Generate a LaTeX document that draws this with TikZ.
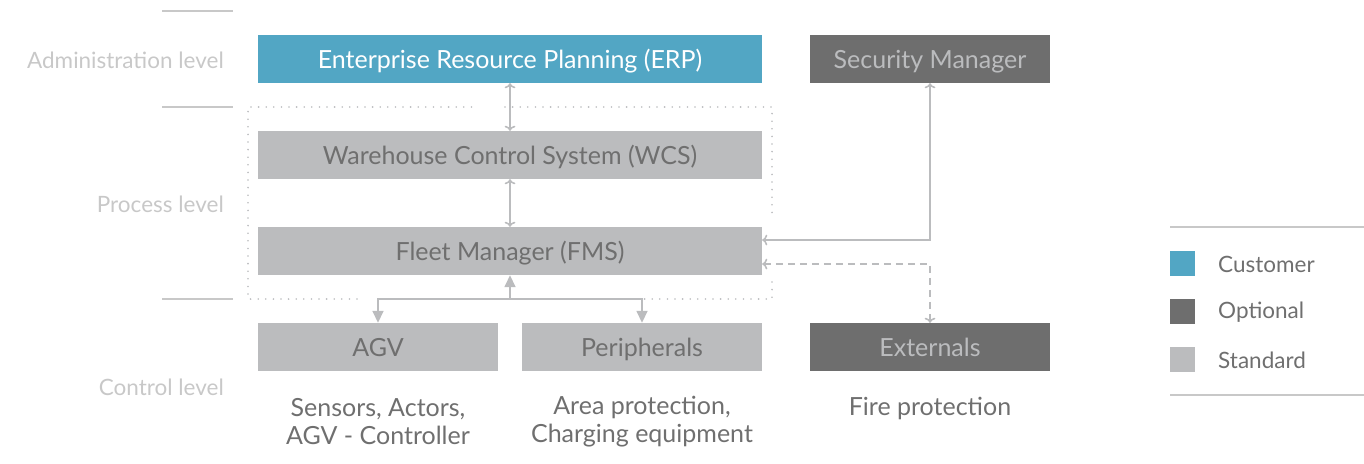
\documentclass[tikz,border=0pt]{standalone}
\usepackage{fontspec}
\setmainfont{Lato}
\usetikzlibrary{arrows.meta}
\definecolor{custblue}{HTML}{52A6C4}
\definecolor{optgray}{HTML}{6E6E6E}
\definecolor{stdgray}{HTML}{BBBCBE}
\definecolor{txtgray}{HTML}{6F6F6F}
\definecolor{lvlgray}{HTML}{C8C8C8}
\tikzset{
  box/.style = {minimum height = 48pt, inner sep = 0pt, text height = 18pt, text depth = 0pt, font = \fontsize{25}{29}\selectfont},
  stdbox/.style = {box, fill = stdgray, text = txtgray},
  optbox/.style = {box, fill = optgray, text = stdgray},
  custbox/.style = {box, fill = custblue, text = white},
  link/.style = {draw = stdgray, line width = 1.6pt, arrows = {-Triangle[length = 12pt, width = 11pt]}},
  lvlline/.style = {draw = lvlgray, line width = 1.2pt},
  lvltext/.style = {anchor = east, inner sep = 0pt, text = lvlgray, font = \fontsize{22.5}{26}\selectfont},
  subtext/.style = {align = center, text = txtgray, font = \fontsize{25}{28}\selectfont},
  frame/.style = {draw = stdgray, line width = 1.8pt, line cap = round, dash pattern = on 0pt off 7.6pt}
}
\begin{document}
\begin{tikzpicture}[x = 1pt, y = -1pt]
\useasboundingbox (0,0) rectangle (1364,463);
% level separators and legend lines
\foreach \y in {11,107,299} \draw[lvlline] (162,\y) -- (233,\y);
\foreach \y in {227,395} \draw[lvlline] (1170,\y) -- (1364,\y);
\node[lvltext] (adm) at (224,60) {Administration level};
\node[lvltext] (proc) at (224,204) {Process level};
\node[lvltext] (ctrl) at (224,387) {Control level};
% dotted frame round WCS and FMS
\draw[frame] (505,107) -- (772,107) -- (772,218);
\draw[frame] (772,282) -- (772,299) -- (630,299);
\draw[frame] (357,299) -- (248,299) -- (248,107) -- (478,107);
% boxes
\node[custbox, minimum width = 504pt] (erp) at (510,59) {Enterprise Resource Planning (ERP)};
\node[optbox, minimum width = 240pt] (sec) at (930,59) {Security Manager};
\node[stdbox, minimum width = 504pt] (wcs) at (510,155) {Warehouse Control System (WCS)};
\node[stdbox, minimum width = 504pt] (fms) at (510,251) {Fleet Manager (FMS)};
\node[stdbox, minimum width = 240pt] (agv) at (378,347) {AGV};
\node[stdbox, minimum width = 240pt] (per) at (642,347) {Peripherals};
\node[optbox, minimum width = 240pt] (ext) at (930,347) {Externals};
% connectors
\draw[link, <->] (erp) -- (wcs);
\draw[link, <->] (wcs) -- (fms);
\coordinate (split) at (510,299);
\draw[link] (split) -- (fms);
\draw[link] (split) -| (agv);
\draw[link] (split) -| (per);
\draw[link, <->] ([yshift = 11pt]fms.east) -| (sec);
\draw[link, <->, dash pattern = on 7pt off 5pt] ([yshift = -13pt]fms.east) -| (ext);
% descriptions
\node[subtext] (agvsub) at (378,422) {Sensors, Actors,\\AGV - Controller};
\node[subtext] (persub) at (642,422) {Area protection,\\Charging equipment};
\node[subtext] (extsub) at (930,408) {Fire protection};
% legend
\foreach \c/\t [count = \i] in {custblue/Customer, optgray/Optional, stdgray/Standard} {
  \fill[\c] (1170,{251+48*(\i-1)}) rectangle +(25,25);
  \node[anchor = west, inner sep = 0pt, text = txtgray, font = \fontsize{22.5}{26}\selectfont] (leg\i) at (1218,{264+48*(\i-1)}) {\t};
}
\end{tikzpicture}
\end{document}
